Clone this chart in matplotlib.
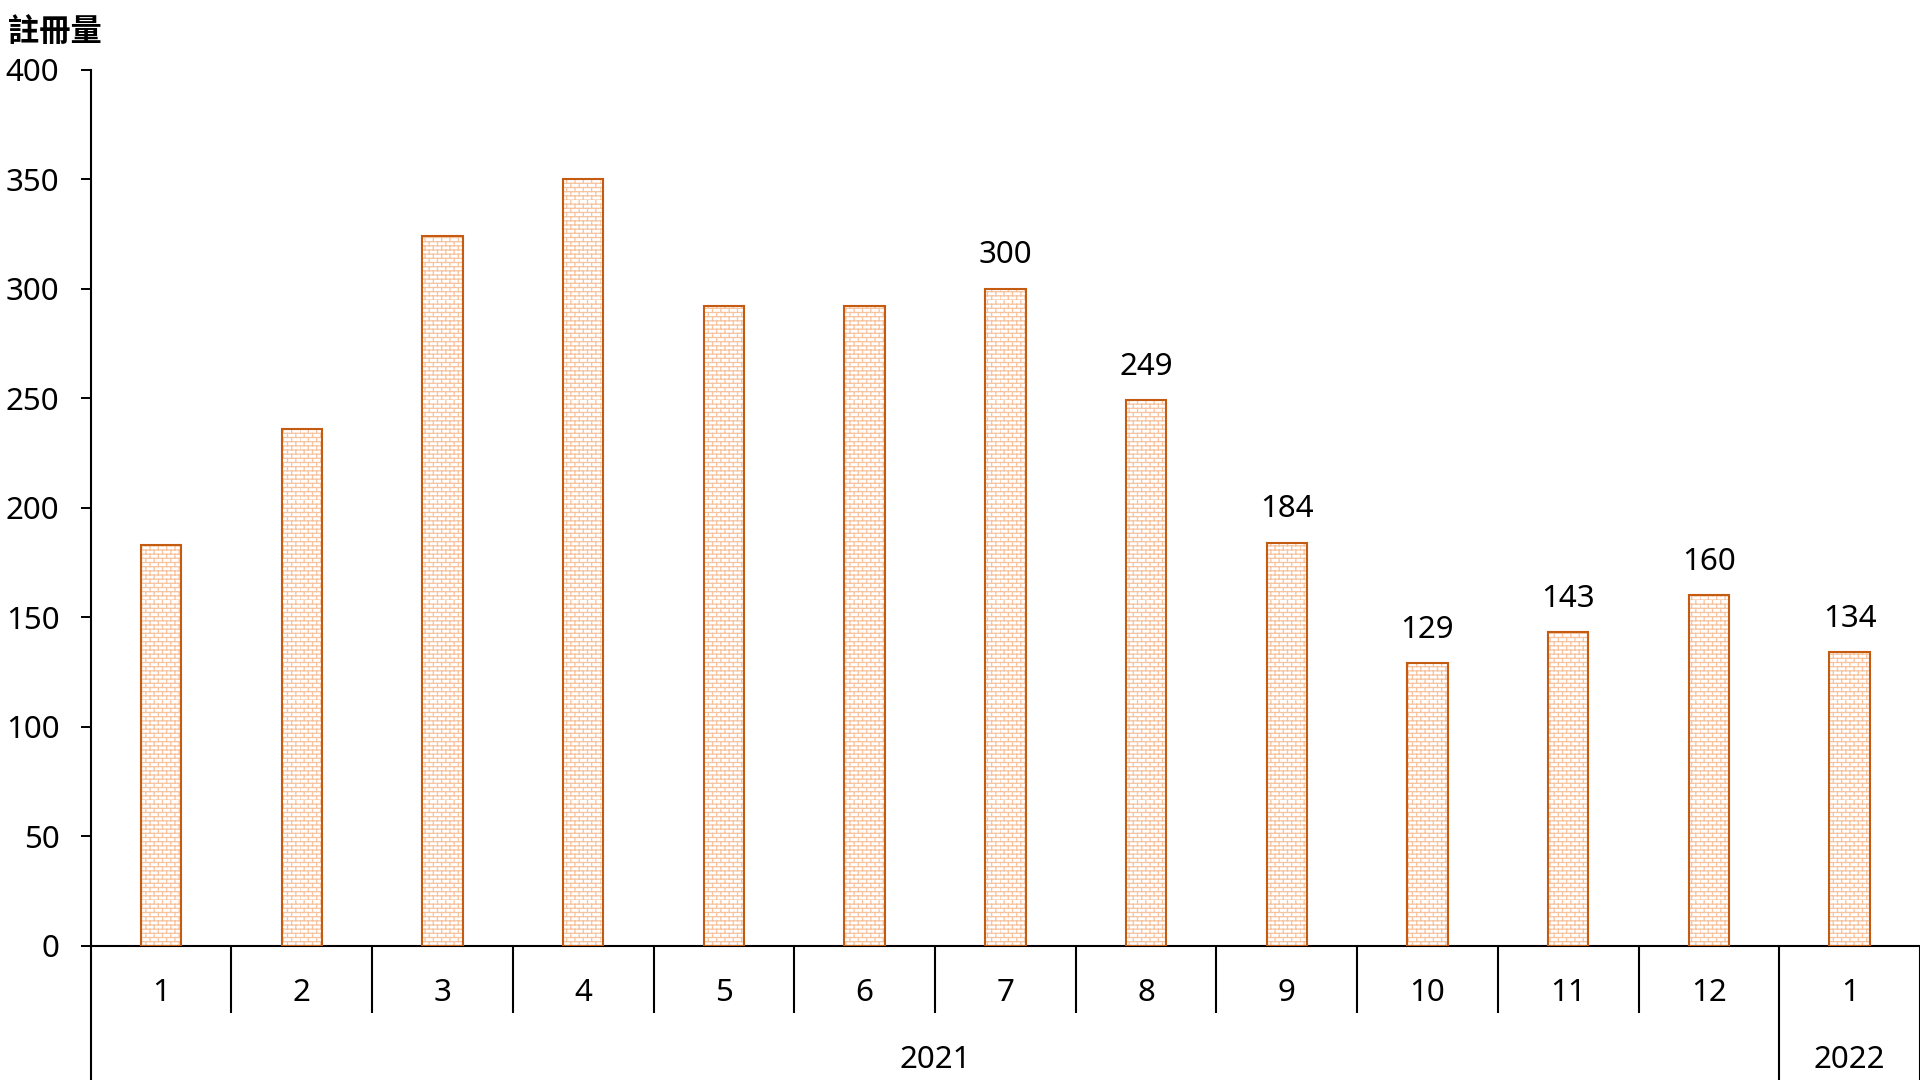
import warnings
warnings.filterwarnings("ignore")
import numpy as np
import matplotlib
matplotlib.use("Agg")
import matplotlib.pyplot as plt
from matplotlib import hatch as mhatch
from matplotlib.path import Path

# ---- data ----
months = ["1", "2", "3", "4", "5", "6", "7", "8", "9", "10", "11", "12", "1"]
years = ["2021", "2022"]
year_counts = [12, 1]
values = [183, 236, 324, 350, 292, 292, 300, 249, 184, 129, 143, 160, 134]
labeled_from = 6  # value labels shown from the 7th bar on
y_title = "註冊量"


# ---- custom brick hatch ----
class BrickHatch(mhatch.HatchPatternBase):
    def __init__(self, hatch, density):
        n = int(hatch.count('b') * density)
        n = n + (n % 2)
        self.n = n
        self.ncols = n // 2
        self.num_vertices = (n * 2 + n * self.ncols * 2) if n else 0

    def set_vertices_and_codes(self, vertices, codes):
        n, nc = self.n, self.ncols
        ys = np.arange(n) / n
        vertices[0:2 * n:2, 0] = 0.0
        vertices[0:2 * n:2, 1] = ys
        vertices[1:2 * n:2, 0] = 1.0
        vertices[1:2 * n:2, 1] = ys
        codes[0:2 * n:2] = Path.MOVETO
        codes[1:2 * n:2] = Path.LINETO
        k = 2 * n
        for i in range(n):
            off = (i % 2) * (1.0 / n)
            for j in range(nc):
                x = j / nc + off
                vertices[k] = (x, i / n)
                vertices[k + 1] = (x, (i + 1) / n)
                codes[k] = Path.MOVETO
                codes[k + 1] = Path.LINETO
                k += 2


mhatch._hatch_types.append(BrickHatch)

plt.rcParams['font.family'] = ['Noto Sans', 'Noto Sans CJK TC', 'DejaVu Sans']
plt.rcParams['hatch.linewidth'] = 0.9

FS = 22.5
W, H = 1920, 1080
fig = plt.figure(figsize=(W / 100, H / 100), dpi=100)
x0, x1 = 90.7, 1920
y_top, y_zero = 69.8, 945.5
ax = fig.add_axes([x0 / W, (H - y_zero) / H, (x1 - x0) / W, (y_zero - y_top) / H])

x = np.arange(len(values))
ax.bar(x, values, width=0.287, color='white', edgecolor='#F7C39E',
       linewidth=0, hatch='bbbb', zorder=2)
ax.bar(x, values, width=0.287, fill=False, edgecolor='#C55A11',
       linewidth=1.5, zorder=3)

ax.set_xlim(-0.5, len(values) - 0.5)
ax.set_ylim(0, 400)
ax.set_yticks(np.arange(0, 401, 50))
ax.tick_params(axis='y', direction='out', length=7.5, width=1.4,
               labelsize=FS, pad=15)
ax.set_xticks([])
for s in ['top', 'right']:
    ax.spines[s].set_visible(False)
for s in ['left', 'bottom']:
    ax.spines[s].set_linewidth(1.5)

# value labels
for i in range(labeled_from, len(values)):
    ax.annotate(str(values[i]), (x[i], values[i]), xytext=(0, 24),
                textcoords='offset points', ha='center', va='center',
                fontsize=FS)

# category axis (two levels)
ph = y_zero - y_top
def frac(py):
    return -(py - y_zero) / ph

tr = ax.get_xaxis_transform()
for i, m in enumerate(months):
    ax.text(x[i], frac(993), m, transform=tr, ha='center', va='center',
            fontsize=FS)

short_y = frac(1012.7)
bottom_y = frac(1080)
boundaries = np.arange(len(values) + 1) - 0.5
year_edges = np.cumsum([0] + year_counts) - 0.5
for b in boundaries:
    full = np.any(np.isclose(year_edges, b))
    yb = bottom_y if full else short_y
    ax.plot([b, b], [0, yb], transform=tr, color='black', lw=1.5,
            clip_on=False, solid_capstyle='butt')

start = 0
for yname, cnt in zip(years, year_counts):
    ax.text(start + (cnt - 1) / 2, frac(1060), yname, transform=tr,
            ha='center', va='center', fontsize=FS)
    start += cnt

fig.text(8 / W, 1 - 32 / H, y_title, ha='left', va='center', fontsize=22.5,
         fontweight='bold', family=['Noto Sans CJK TC', 'DejaVu Sans'])

fig.savefig('out.png', dpi=100)
